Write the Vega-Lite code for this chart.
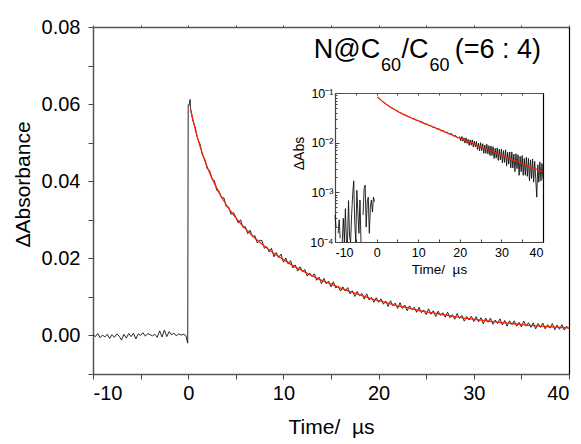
{
"$schema": "https://vega.github.io/schema/vega-lite/v6.json",
"width": 476, "height": 347,
"autosize": "none",
"padding": {"left": 93, "top": 27, "right": 12, "bottom": 70},
"config": {"font": "Liberation Sans", "view": {"stroke": null},
  "axis": {"grid": false, "labelColor": "#000", "titleColor": "#000", "titleFontWeight": "normal", "labelFont": "Liberation Sans", "titleFont": "Liberation Sans", "tickColor": "#444"}},
"datasets": {
"main": [
{"t":-10,"a":0.0002},{"t":-9.75,"a":-0.0003},{"t":-9.5,"a":0.0005},{"t":-9.25,"a":-0.0006},{"t":-9,"a":0.0001},{"t":-8.75,"a":-0.0004},{"t":-8.5,"a":0.0003},{"t":-8.25,"a":-0.0008},{"t":-8,"a":0.0002},{"t":-7.75,"a":-0.0005},{"t":-7.5,"a":0.0004},{"t":-7.25,"a":-0.0002},{"t":-7,"a":-0.0012},{"t":-6.75,"a":0.0003},{"t":-6.5,"a":-0.0007},{"t":-6.25,"a":0.0005},{"t":-6,"a":-0.0003},{"t":-5.75,"a":0.0006},{"t":-5.5,"a":-0.0009},{"t":-5.25,"a":0.0004},{"t":-5,"a":0},{"t":-4.75,"a":0.0007},{"t":-4.5,"a":-0.0002},{"t":-4.25,"a":0.0005},{"t":-4,"a":0.0002},{"t":-3.75,"a":-0.0001},{"t":-3.5,"a":0.0003},{"t":-3.25,"a":-0.0005},{"t":-3,"a":0.0012},{"t":-2.75,"a":-0.0004},{"t":-2.5,"a":0.0014},{"t":-2.25,"a":-0.0003},{"t":-2,"a":0.001},{"t":-1.75,"a":0.0002},{"t":-1.5,"a":0.0006},{"t":-1.25,"a":-0.0001},{"t":-1,"a":0.0004},{"t":-0.75,"a":0.0001},{"t":-0.5,"a":0.0003},{"t":-0.25,"a":0},{"t":-0.05,"a":-0.002},{"t":0,"a":0.0598},{"t":0.1,"a":0.0597},{"t":0.2,"a":0.0612},
{"t":0.25,"a":0.0588},{"t":0.5,"a":0.0556},{"t":0.75,"a":0.0538},{"t":1,"a":0.0509},{"t":1.25,"a":0.0496},{"t":1.5,"a":0.0467},{"t":1.75,"a":0.0457},{"t":2,"a":0.0432},{"t":2.25,"a":0.0428},{"t":2.5,"a":0.0405},{"t":2.75,"a":0.0402},{"t":3,"a":0.0376},{"t":3.25,"a":0.0374},{"t":3.5,"a":0.0357},{"t":3.75,"a":0.0357},{"t":4,"a":0.0334},{"t":4.25,"a":0.0333},{"t":4.5,"a":0.0314},{"t":4.75,"a":0.0319},{"t":5,"a":0.0307},{"t":5.25,"a":0.0292},{"t":5.5,"a":0.03},{"t":5.75,"a":0.028},{"t":6,"a":0.0282},{"t":6.25,"a":0.0264},{"t":6.5,"a":0.0273},{"t":6.75,"a":0.0256},{"t":7,"a":0.0259},{"t":7.25,"a":0.024},{"t":7.5,"a":0.0247},{"t":7.75,"a":0.0246},{"t":8,"a":0.0226},{"t":8.25,"a":0.023},{"t":8.5,"a":0.0217},{"t":8.75,"a":0.0226},{"t":9,"a":0.0204},{"t":9.25,"a":0.0215},{"t":9.5,"a":0.0202},{"t":9.75,"a":0.0211},{"t":10,"a":0.019},{"t":10.25,"a":0.0201},{"t":10.5,"a":0.0185},{"t":10.75,"a":0.0194},{"t":11,"a":0.0175},{"t":11.25,"a":0.0183},{"t":11.5,"a":0.0167},{"t":11.75,"a":0.0178},{"t":12,"a":0.0165},{"t":12.25,"a":0.0171},{"t":12.5,"a":0.0154},{"t":12.75,"a":0.0162},{"t":13,"a":0.0153},{"t":13.25,"a":0.016},{"t":13.5,"a":0.0143},{"t":13.75,"a":0.0151},{"t":14,"a":0.0134},{"t":14.25,"a":0.0148},{"t":14.5,"a":0.0134},{"t":14.75,"a":0.0141},{"t":15,"a":0.0126},{"t":15.25,"a":0.0139},{"t":15.5,"a":0.0123},{"t":15.75,"a":0.0128},{"t":16,"a":0.0115},{"t":16.25,"a":0.0126},{"t":16.5,"a":0.0115},{"t":16.75,"a":0.0124},{"t":17,"a":0.0108},{"t":17.25,"a":0.0116},{"t":17.5,"a":0.0101},{"t":17.75,"a":0.0114},{"t":18,"a":0.0103},{"t":18.25,"a":0.0109},{"t":18.5,"a":0.0094},{"t":18.75,"a":0.0108},{"t":19,"a":0.0092},{"t":19.25,"a":0.0099},{"t":19.5,"a":0.0086},{"t":19.75,"a":0.0098},{"t":20,"a":0.0086},{"t":20.25,"a":0.0095},{"t":20.5,"a":0.0081},{"t":20.75,"a":0.0089},{"t":21,"a":0.0075},{"t":21.25,"a":0.009},{"t":21.5,"a":0.0077},{"t":21.75,"a":0.0084},{"t":22,"a":0.007},{"t":22.25,"a":0.0085},{"t":22.5,"a":0.007},{"t":22.75,"a":0.0079},{"t":23,"a":0.0064},{"t":23.25,"a":0.0077},{"t":23.5,"a":0.0067},{"t":23.75,"a":0.0073},{"t":24,"a":0.006},{"t":24.25,"a":0.0073},{"t":24.5,"a":0.0059},{"t":24.75,"a":0.0066},{"t":25,"a":0.0054},{"t":25.25,"a":0.0069},{"t":25.5,"a":0.0055},{"t":25.75,"a":0.0064},{"t":26,"a":0.0049},{"t":26.25,"a":0.0063},{"t":26.5,"a":0.0052},{"t":26.75,"a":0.0059},{"t":27,"a":0.0047},{"t":27.25,"a":0.006},{"t":27.5,"a":0.0046},{"t":27.75,"a":0.0054},{"t":28,"a":0.0042},{"t":28.25,"a":0.0057},{"t":28.5,"a":0.0044},{"t":28.75,"a":0.0052},{"t":29,"a":0.0037},{"t":29.25,"a":0.0049},{"t":29.5,"a":0.004},{"t":29.75,"a":0.005},{"t":30,"a":0.0036},{"t":30.25,"a":0.0049},{"t":30.5,"a":0.0035},{"t":30.75,"a":0.0046},{"t":31,"a":0.003},{"t":31.25,"a":0.0045},{"t":31.5,"a":0.0034},{"t":31.75,"a":0.0045},{"t":32,"a":0.0029},{"t":32.25,"a":0.004},{"t":32.5,"a":0.0031},{"t":32.75,"a":0.0043},{"t":33,"a":0.0027},{"t":33.25,"a":0.0039},{"t":33.5,"a":0.0024},{"t":33.75,"a":0.0038},{"t":34,"a":0.0028},{"t":34.25,"a":0.0038},{"t":34.5,"a":0.0024},{"t":34.75,"a":0.0034},{"t":35,"a":0.0022},{"t":35.25,"a":0.0037},{"t":35.5,"a":0.0024},{"t":35.75,"a":0.0033},{"t":36,"a":0.0021},{"t":36.25,"a":0.0033},{"t":36.5,"a":0.0017},{"t":36.75,"a":0.0031},{"t":37,"a":0.0021},{"t":37.25,"a":0.0032},{"t":37.5,"a":0.0017},{"t":37.75,"a":0.0028},{"t":38,"a":0.0019},{"t":38.25,"a":0.0031},{"t":38.5,"a":0.0015},{"t":38.75,"a":0.0027},{"t":39,"a":0.0016},{"t":39.25,"a":0.0028},{"t":39.5,"a":0.0014},{"t":39.75,"a":0.0024},{"t":40,"a":0.0017}
],
"fit": [
{"t":0.25,"f":0.0586,"h":0.0832},{"t":0.5,"f":0.0559,"h":0.0794},{"t":0.75,"f":0.0534,"h":0.0758},{"t":1,"f":0.0511,"h":0.0726},{"t":1.5,"f":0.0471,"h":0.0669},{"t":2,"f":0.0437,"h":0.0621},{"t":2.5,"f":0.0408,"h":0.0579},{"t":3,"f":0.0382,"h":0.0542},{"t":3.5,"f":0.0359,"h":0.051},{"t":4,"f":0.0339,"h":0.0481},{"t":4.5,"f":0.0321,"h":0.0456},{"t":5,"f":0.0305,"h":0.043},{"t":6,"f":0.0277,"h":0.0388},{"t":7,"f":0.0253,"h":0.0354},{"t":8,"f":0.0232,"h":0.0325},{"t":9,"f":0.0213,"h":0.0298},{"t":10,"f":0.0197,"h":0.0276},{"t":11,"f":0.0181,"h":0.0253},{"t":12,"f":0.0168,"h":0.0235},{"t":13,"f":0.0155,"h":0.0217},{"t":14,"f":0.0143,"h":0.02},{"t":15,"f":0.0133,"h":0.0185},{"t":16,"f":0.0123,"h":0.017},{"t":17,"f":0.0114,"h":0.0157},{"t":18,"f":0.0105,"h":0.0144},{"t":19,"f":0.0097,"h":0.0133},{"t":20,"f":0.009,"h":0.0123},{"t":21,"f":0.0084,"h":0.0114},{"t":22,"f":0.0077,"h":0.0105},{"t":23,"f":0.0072,"h":0.0098},{"t":24,"f":0.0066,"h":0.0089},{"t":25,"f":0.0061,"h":0.0082},{"t":26,"f":0.0057,"h":0.0077},{"t":27,"f":0.0053,"h":0.0071},{"t":28,"f":0.0049,"h":0.0066},{"t":29,"f":0.0045,"h":0.006},{"t":30,"f":0.0042,"h":0.0056},{"t":31,"f":0.0039,"h":0.0052},{"t":32,"f":0.0036,"h":0.0048},{"t":33,"f":0.0033,"h":0.0044},{"t":34,"f":0.0031,"h":0.00415},{"t":35,"f":0.00285,"h":0.0038},{"t":36,"f":0.0026,"h":0.0035},{"t":37,"f":0.0024,"h":0.0032},{"t":38,"f":0.00225,"h":0.003},{"t":39,"f":0.0021,"h":0.0028},{"t":40,"f":0.00194,"h":0.0026}
],
"ins": [
{"t":-10,"b":0.00035},{"t":-9.75,"b":0.0002},{"t":-9.5,"b":null},{"t":-9.25,"b":0.00015},{"t":-9,"b":0.00028},{"t":-8.75,"b":0.00012},{"t":-8.5,"b":null},{"t":-8.25,"b":0.00008},{"t":-8,"b":0.0003},{"t":-7.75,"b":0.00005},{"t":-7.5,"b":0.00047},{"t":-7.25,"b":0.0001},{"t":-7,"b":0.00006},{"t":-6.75,"b":0.00068},{"t":-6.5,"b":0.00013},{"t":-6.25,"b":0.00004},{"t":-6,"b":0.00035},{"t":-5.75,"b":0.0009},{"t":-5.5,"b":0.0017},{"t":-5.25,"b":0.00025},{"t":-5,"b":0.00005},{"t":-4.75,"b":0.0011},{"t":-4.5,"b":0.0004},{"t":-4.25,"b":0.00015},{"t":-4,"b":0.0007},{"t":-3.75,"b":0.00003},{"t":-3.5,"b":null},{"t":-3.25,"b":0.00035},{"t":-3,"b":0.0012},{"t":-2.75,"b":0.0014},{"t":-2.5,"b":0.0002},{"t":-2.25,"b":0.00065},{"t":-2,"b":0.0008},{"t":-1.75,"b":0.00015},{"t":-1.5,"b":0.0005},{"t":-1.25,"b":0.0007},{"t":-1,"b":0.0004},{"t":-0.75,"b":0.0008},{"t":-0.5,"b":0.00065},{"t":0,"b":null},
{"t":0.25,"b":0.0836},{"t":0.5,"b":0.079},{"t":1,"b":0.0729},{"t":1.5,"b":0.0665},{"t":2,"b":0.0624},{"t":2.5,"b":0.0575},{"t":3,"b":0.0546},{"t":3.5,"b":0.0506},{"t":4,"b":0.0485},{"t":4.5,"b":0.0452},{"t":5,"b":0.0433},{"t":5.5,"b":0.0405},{"t":6,"b":0.0391},{"t":6.5,"b":0.0368},{"t":7,"b":0.0358},{"t":7.5,"b":0.0336},{"t":8,"b":0.0329},{"t":8.5,"b":0.0308},{"t":9,"b":0.0302},{"t":9.5,"b":0.0283},{"t":10,"b":0.028},{"t":10.5,"b":0.0262},{"t":11,"b":0.0257},{"t":11.5,"b":0.024},{"t":12,"b":0.0239},{"t":12.5,"b":0.0222},{"t":13,"b":0.0221},{"t":13.5,"b":0.0204},{"t":14,"b":0.0205},{"t":14.5,"b":0.0188},{"t":15,"b":0.019},{"t":15.5,"b":0.0174},{"t":16,"b":0.0175},{"t":16.5,"b":0.016},{"t":17,"b":0.0163},{"t":17.5,"b":0.0147},{"t":18,"b":0.0152},{"t":18.5,"b":0.0136},{"t":19,"b":0.014},{"t":19.5,"b":0.0124},
{"t":20,"b":0.0131},{"t":20.25,"b":0.0109},{"t":20.5,"b":0.0133},{"t":20.75,"b":0.0107},{"t":21,"b":0.0125},{"t":21.25,"b":0.0098},{"t":21.5,"b":0.0125},{"t":21.75,"b":0.0097},{"t":22,"b":0.0117},{"t":22.25,"b":0.0088},{"t":22.5,"b":0.0114},{"t":22.75,"b":0.0089},{"t":23,"b":0.0114},{"t":23.25,"b":0.0082},{"t":23.5,"b":0.0108},{"t":23.75,"b":0.0082},{"t":24,"b":0.0106},{"t":24.25,"b":0.0073},{"t":24.5,"b":0.0098},{"t":24.75,"b":0.0068},{"t":25,"b":0.01},{"t":25.25,"b":0.0069},{"t":25.5,"b":0.0095},{"t":25.75,"b":0.0061},{"t":26,"b":0.009},{"t":26.25,"b":0.0061},{"t":26.5,"b":0.0093},{"t":26.75,"b":0.0059},{"t":27,"b":0.0087},{"t":27.25,"b":0.0055},{"t":27.5,"b":0.0086},{"t":27.75,"b":0.0055},{"t":28,"b":0.0083},{"t":28.25,"b":0.0048},{"t":28.5,"b":0.0077},{"t":28.75,"b":0.0049},{"t":29,"b":0.0079},{"t":29.25,"b":0.0044},{"t":29.5,"b":0.0074},{"t":29.75,"b":0.0045},{"t":30,"b":0.0074},{"t":30.25,"b":0.0039},{"t":30.5,"b":0.0069},{"t":30.75,"b":0.004},{"t":31,"b":0.0072},{"t":31.25,"b":0.0034},{"t":31.5,"b":0.0064},{"t":31.75,"b":0.0037},{"t":32,"b":0.0065},{"t":32.25,"b":0.0031},{"t":32.5,"b":0.0065},{"t":32.75,"b":0.0031},{"t":33,"b":0.0059},{"t":33.25,"b":0.0026},{"t":33.5,"b":0.006},{"t":33.75,"b":0.003},{"t":34,"b":0.0057},{"t":34.25,"b":0.0022},{"t":34.5,"b":0.0053},{"t":34.75,"b":0.0026},{"t":35,"b":0.0055},{"t":35.25,"b":0.0022},{"t":35.5,"b":0.0048},{"t":35.75,"b":0.0022},{"t":36,"b":0.0051},{"t":36.25,"b":0.0021},{"t":36.5,"b":0.0048},{"t":36.75,"b":0.0017},{"t":37,"b":0.0045},{"t":37.25,"b":0.0019},{"t":37.5,"b":0.0047},{"t":37.75,"b":0.0016},{"t":38,"b":0.0042},{"t":38.25,"b":0.0019},{"t":38.5,"b":0.0008},{"t":38.75,"b":0.0036},{"t":39,"b":0.0016},{"t":39.25,"b":0.0041},{"t":39.5,"b":0.0017},{"t":39.75,"b":0.0038},{"t":40,"b":0.0018}
]
},
"layer": [
{
"layer": [
{"data": {"name": "main"}, "mark": {"type": "line", "color": "#111", "strokeWidth": 0.9},
 "encoding": {
  "x": {"field": "t", "type": "quantitative", "scale": {"domain": [-10, 40], "nice": false, "zero": false},
   "axis": {"orient": "bottom", "values": [-10,-5,0,5,10,15,20,25,30,35,40], "labelExpr": "datum.value % 10 === 0 ? '' + datum.value : ''", "tickSize": 5, "labelFontSize": 20, "labelPadding": 4, "title": "Time/\u00a0\u00a0µs", "titleFontSize": 21, "titlePadding": 13, "domainColor": "#555", "domainWidth": 1.5}},
  "y": {"field": "a", "type": "quantitative", "scale": {"domain": [-0.01, 0.08], "nice": false, "zero": false},
   "axis": {"orient": "left", "values": [-0.01,0,0.01,0.02,0.03,0.04,0.05,0.06,0.07,0.08], "labelExpr": "datum.value >= 0 && round(datum.value*100) % 2 === 0 ? format(datum.value, '.2f') : ''", "tickSize": 5, "labelFontSize": 20, "labelPadding": 8, "title": "ΔAbsorbance", "titleFontSize": 21, "titlePadding": 8, "titleY": 157, "domainColor": "#555", "domainWidth": 1.5}}
 }},
{"data": {"name": "fit"}, "mark": {"type": "line", "color": "#ff2200", "strokeWidth": 1.3, "interpolate": "monotone"},
 "encoding": {
  "x": {"field": "t", "type": "quantitative", "scale": {"domain": [-10, 40], "nice": false, "zero": false},
   "axis": {"orient": "top", "values": [-10,-5,0,5,10,15,20,25,30,35,40], "labels": false, "tickSize": 2, "title": null, "domainColor": "#555", "domainWidth": 1.5}},
  "y": {"field": "f", "type": "quantitative", "scale": {"domain": [-0.01, 0.08], "nice": false, "zero": false},
   "axis": {"orient": "right", "labels": false, "ticks": false, "title": null, "domainColor": "#000", "domainWidth": 1.2}}
 }},
{"data": {"values": [{}]}, "mark": {"type": "text", "text": "N@C", "fontSize": 27, "align": "left", "baseline": "alphabetic", "font": "Liberation Sans"},
 "encoding": {"x": {"datum": 13.2, "type": "quantitative", "scale": {"domain": [-10, 40], "nice": false, "zero": false}, "axis": null},
  "y": {"datum": 0.072, "type": "quantitative", "scale": {"domain": [-0.01, 0.08], "nice": false, "zero": false}, "axis": null}}},
{"data": {"values": [{}]}, "mark": {"type": "text", "text": "60", "fontSize": 18, "align": "left", "baseline": "alphabetic", "font": "Liberation Sans"},
 "encoding": {"x": {"datum": 20.24, "type": "quantitative", "scale": {"domain": [-10, 40], "nice": false, "zero": false}, "axis": null},
  "y": {"datum": 0.0687, "type": "quantitative", "scale": {"domain": [-0.01, 0.08], "nice": false, "zero": false}, "axis": null}}},
{"data": {"values": [{}]}, "mark": {"type": "text", "text": "/C", "fontSize": 27, "align": "left", "baseline": "alphabetic", "font": "Liberation Sans"},
 "encoding": {"x": {"datum": 22.4, "type": "quantitative", "scale": {"domain": [-10, 40], "nice": false, "zero": false}, "axis": null},
  "y": {"datum": 0.072, "type": "quantitative", "scale": {"domain": [-0.01, 0.08], "nice": false, "zero": false}, "axis": null}}},
{"data": {"values": [{}]}, "mark": {"type": "text", "text": "60", "fontSize": 18, "align": "left", "baseline": "alphabetic", "font": "Liberation Sans"},
 "encoding": {"x": {"datum": 25.34, "type": "quantitative", "scale": {"domain": [-10, 40], "nice": false, "zero": false}, "axis": null},
  "y": {"datum": 0.0687, "type": "quantitative", "scale": {"domain": [-0.01, 0.08], "nice": false, "zero": false}, "axis": null}}},
{"data": {"values": [{}]}, "mark": {"type": "text", "text": "(=6 : 4)", "fontSize": 27, "align": "left", "baseline": "alphabetic", "font": "Liberation Sans"},
 "encoding": {"x": {"datum": 28.0, "type": "quantitative", "scale": {"domain": [-10, 40], "nice": false, "zero": false}, "axis": null},
  "y": {"datum": 0.072, "type": "quantitative", "scale": {"domain": [-0.01, 0.08], "nice": false, "zero": false}, "axis": null}}}
],
"resolve": {"axis": {"x": "independent", "y": "independent"}}
},
{
"layer": [
{"data": {"name": "ins"}, "mark": {"type": "line", "color": "#111", "strokeWidth": 0.9},
 "encoding": {
  "x": {"field": "t", "type": "quantitative", "scale": {"domain": [-10, 40], "range": [242, 450], "nice": false, "zero": false},
   "axis": {"orient": "bottom", "offset": -132, "values": [-10,-5,0,5,10,15,20,25,30,35,40], "labelExpr": "datum.value % 10 === 0 ? '' + datum.value : ''", "tickSize": -3, "labelFontSize": 12.5, "labelPadding": 7, "title": "Time/\u00a0\u00a0µs", "titleFontSize": 13.5, "titlePadding": 4, "domainColor": "#444", "domainWidth": 1.2}},
  "y": {"field": "b", "type": "quantitative", "scale": {"type": "log", "domain": [0.0001, 0.1], "range": [215, 66], "clamp": true, "nice": false},
   "axis": {"orient": "left", "offset": -242, "values": [0.0001, 0.001, 0.01, 0.1], "labelExpr": "'10' + (datum.value > 0.05 ? '⁻¹' : datum.value > 0.005 ? '⁻²' : datum.value > 0.0005 ? '⁻³' : '⁻⁴')", "tickSize": -4, "labelFontSize": 12.5, "labelPadding": 6, "title": "ΔAbs", "titleFontSize": 14, "titlePadding": 3, "titleY": 126, "domainColor": "#444", "domainWidth": 1.2}}
 }},
{"data": {"name": "fit"}, "mark": {"type": "line", "color": "#ff2200", "strokeWidth": 1.2, "interpolate": "monotone"},
 "encoding": {
  "x": {"field": "t", "type": "quantitative", "scale": {"domain": [-10, 40], "range": [242, 450], "nice": false, "zero": false},
   "axis": {"orient": "top", "offset": -66, "values": [-10,-5,0,5,10,15,20,25,30,35,40], "labels": false, "tickSize": -2, "title": null, "domainColor": "#555", "domainWidth": 1.2}},
  "y": {"field": "h", "type": "quantitative", "scale": {"type": "log", "domain": [0.0001, 0.1], "range": [215, 66], "clamp": true, "nice": false},
   "axis": {"orient": "right", "offset": -26, "labels": false, "ticks": false, "title": null, "domainColor": "#000", "domainWidth": 1.2}}
 }},
{"data": {"name": "fit"}, "mark": {"type": "line", "strokeOpacity": 0},
 "encoding": {
  "x": {"field": "t", "type": "quantitative", "scale": {"domain": [-10, 40], "range": [242, 450], "nice": false, "zero": false}, "axis": null},
  "y": {"field": "h", "type": "quantitative", "scale": {"type": "log", "domain": [0.0001, 0.1], "range": [215, 66], "clamp": true, "nice": false},
   "axis": {"orient": "left", "offset": -242, "values": [0.0002,0.0003,0.0004,0.0005,0.0006,0.0007,0.0008,0.0009,0.002,0.003,0.004,0.005,0.006,0.007,0.008,0.009,0.02,0.03,0.04,0.05,0.06,0.07,0.08,0.09], "labels": false, "domain": false, "tickSize": -2, "title": null}}
 }}
],
"resolve": {"axis": {"x": "independent", "y": "independent"}}
}
],
"resolve": {"scale": {"x": "independent", "y": "independent"}}
}
